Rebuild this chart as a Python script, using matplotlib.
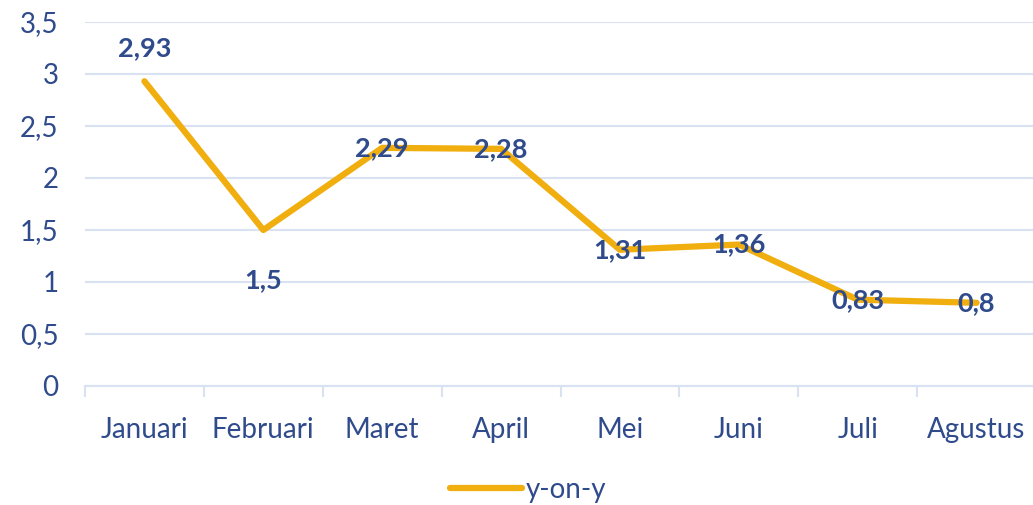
import matplotlib.pyplot as plt
from matplotlib.ticker import FuncFormatter, MultipleLocator

# data
months = ["Januari", "Februari", "Maret", "April", "Mei", "Juni", "Juli", "Agustus"]
yoy = [2.93, 1.5, 2.29, 2.28, 1.31, 1.36, 0.83, 0.8]
label_pos = ["above", "below", "center", "center", "center", "center", "center", "center"]

text_col = "#2F4B8C"
line_col = "#F0AE0F"
grid_col = "#D9E2F3"

plt.rcParams['font.family'] = ['Lato', 'DejaVu Sans']

fig = plt.figure(figsize=(10.33, 5.05), dpi=100)
ax = fig.add_axes([85 / 1033, 1 - 386 / 505, 951 / 1033, 364 / 505])

x = list(range(len(months)))
ax.plot(x, yoy, color=line_col, lw=4.5, solid_capstyle='round', solid_joinstyle='round',
        label="y-on-y", zorder=3)

fmt = lambda v: f"{v:g}".replace(".", ",")
for xi, v, pos in zip(x, yoy, label_pos):
    dy = {"above": 33, "below": -50, "center": 0}[pos]
    ax.annotate(fmt(v), (xi, v), xytext=(0, dy * 0.72), textcoords='offset points',
                ha='center', va='center', fontsize=19.5, fontweight='bold', color=text_col, zorder=4)

ax.set_xlim(-0.5, len(months) - 0.5)
ax.set_ylim(0, 3.5)
ax.yaxis.set_major_locator(MultipleLocator(0.5))
ax.yaxis.set_major_formatter(FuncFormatter(lambda v, p: fmt(v)))
ax.set_xticks(x)
ax.set_xticklabels(months)
ax.set_xticks([i - 0.5 for i in range(len(months) + 1)], minor=True)
ax.tick_params(axis='x', which='major', length=0, pad=22, labelsize=20, labelcolor=text_col)
ax.tick_params(axis='x', which='minor', length=8, color=grid_col, width=1.5)
ax.tick_params(axis='y', length=0, pad=19, labelsize=20, labelcolor=text_col)
ax.grid(axis='y', color=grid_col, lw=1.5)
for s in ['top', 'right', 'left']:
    ax.spines[s].set_visible(False)
ax.spines['bottom'].set_color(grid_col)
ax.spines['bottom'].set_linewidth(1.5)
ax.set_axisbelow(True)

leg = fig.legend(loc='center', bbox_to_anchor=(528 / 1033, 1 - 490 / 505), frameon=False,
                 fontsize=20, handlelength=2.6, handletextpad=0.15)
for t in leg.get_texts():
    t.set_color(text_col)

fig.savefig("out.png", dpi=100)
